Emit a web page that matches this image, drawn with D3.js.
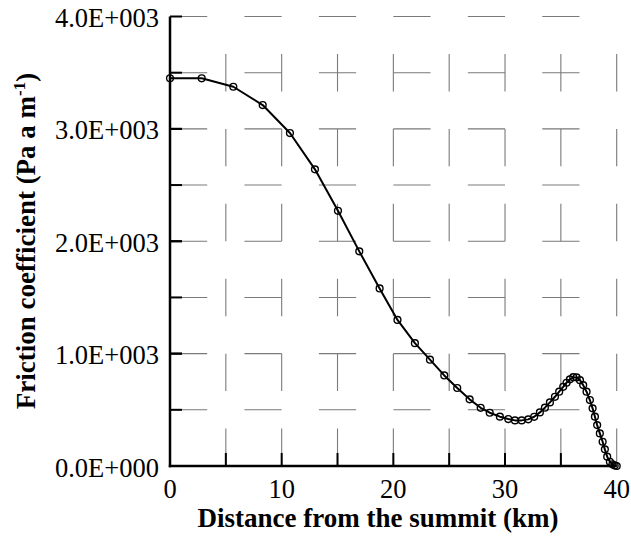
<!DOCTYPE html>
<html>
<head>
<meta charset="utf-8">
<script src="https://cdn.jsdelivr.net/npm/d3@7"></script>
<style>
  html, body { margin: 0; padding: 0; background: #fff; }
  svg { display: block; }
  text { font-family: "Liberation Serif", "Times New Roman", serif; fill: #000; }
</style>
</head>
<body>
<svg id="chart" width="631" height="538"></svg>
<script>
// Distance along the flowline (km) and basal friction coefficient (Pa a m^-1)
const distanceKm = [
  0, 2.84, 5.67, 8.30, 10.74, 12.98, 15.04, 16.95, 18.77, 20.37,
  21.93, 23.28, 24.56, 25.72, 26.83, 27.82, 28.63, 29.54, 30.29, 30.89,
  31.49, 32.08, 32.61, 33.12, 33.57, 34.02, 34.47, 34.85, 35.21, 35.51,
  35.81, 36.11, 36.41, 36.71, 37.00, 37.30, 37.60, 37.84, 38.05, 38.25,
  38.49, 38.74, 38.94, 39.15, 39.39, 39.62, 39.82, 40.0
];
const friction = [
  3450, 3450, 3375, 3212, 2963, 2640, 2271, 1910, 1580, 1300,
  1093, 946, 806, 694, 593, 518, 474, 439, 418, 406,
  406, 415, 438, 477, 519, 566, 616, 661, 705, 741,
  771, 790, 788, 764, 720, 661, 587, 513, 439, 364,
  290, 216, 148, 83, 38, 15, 5, 0
];
const xTicks = [0, 10, 20, 30, 40];
const xGrid = [5, 10, 15, 20, 25, 30, 35, 40];
const xMinorTicks = [5, 10, 15, 20, 25, 30, 35];
const yTicks = [0, 1000, 2000, 3000, 4000];
const yGrid = [500, 1000, 1500, 2000, 2500, 3000, 3500, 4000];
const yMinorTicks = [500, 1000, 1500, 2000, 2500, 3000, 3500];

const xTitle = "Distance from the summit (km)";

const svg = d3.select("#chart");
const plotL = 170, plotR = 616.7, plotT = 16.5, plotB = 466;

const x = d3.scaleLinear().domain([0, 40]).range([plotL, plotR]);
const y = d3.scaleLinear().domain([0, 4000]).range([plotB, plotT]);

const W = plotR - plotL, H = plotB - plotT;

// Dashed grid: horizontal lines dash from the left axis, vertical lines from the bottom axis
const grid = svg.append("g").attr("stroke", "#7a7a7a").attr("stroke-width", 1.1).attr("fill", "none");
grid.selectAll("line.h").data(yGrid).join("line")
  .attr("class", "h")
  .attr("x1", plotL).attr("x2", plotR)
  .attr("y1", d => y(d)).attr("y2", d => y(d))
  .attr("stroke-dasharray", `${W / 12} ${W / 12}`);
grid.selectAll("line.v").data(xGrid).join("line")
  .attr("class", "v")
  .attr("x1", d => x(d)).attr("x2", d => x(d))
  .attr("y1", plotB).attr("y2", plotT)
  .attr("stroke-dasharray", `${H / 12} ${H / 12}`);

// Inward tick marks
const ticks = svg.append("g").attr("stroke", "#000").attr("stroke-width", 2);
ticks.selectAll("line.yt").data(yTicks.concat(yMinorTicks)).join("line")
  .attr("class", "yt")
  .attr("x1", plotL).attr("x2", plotL + 12)
  .attr("y1", d => y(d)).attr("y2", d => y(d));
ticks.selectAll("line.xt").data(xMinorTicks).join("line")
  .attr("class", "xt")
  .attr("x1", d => x(d)).attr("x2", d => x(d))
  .attr("y1", plotB).attr("y2", plotB - 13);

// Axis lines (left and bottom only)
svg.append("line").attr("x1", plotL).attr("x2", plotL).attr("y1", plotT).attr("y2", plotB + 1.2)
  .attr("stroke", "#000").attr("stroke-width", 2.5);
svg.append("line").attr("x1", plotL - 1.2).attr("x2", plotR).attr("y1", plotB).attr("y2", plotB)
  .attr("stroke", "#000").attr("stroke-width", 2.5);

// Tick labels
const fmt = v => {
  if (v === 0) return "0.0E+000";
  const e = Math.floor(Math.log10(v));
  const m = v / Math.pow(10, e);
  return m.toFixed(1) + "E+" + String(e).padStart(3, "0");
};
svg.append("g").selectAll("text").data(yTicks).join("text")
  .attr("x", 159).attr("y", d => y(d) + 10.5)
  .attr("text-anchor", "end").attr("font-size", 26.5)
  .text(fmt);
svg.append("g").selectAll("text").data(xTicks).join("text")
  .attr("x", d => x(d)).attr("y", plotB + 32)
  .attr("text-anchor", "middle").attr("font-size", 26.5)
  .text(d => d);

// Axis titles
svg.append("text")
  .attr("x", 378).attr("y", 527)
  .attr("text-anchor", "middle").attr("font-size", 27).attr("font-weight", "bold")
  .text(xTitle);

const yt = svg.append("text")
  .attr("transform", "translate(35,241) rotate(-90)")
  .attr("text-anchor", "middle").attr("font-size", 27).attr("font-weight", "bold");
yt.append("tspan").text("Friction coefficient (Pa a m");
yt.append("tspan").attr("font-size", 17).attr("dy", -10).text("-1");
yt.append("tspan").attr("dy", 10).text(")");

// Series line and open circle markers
const line = d3.line().x(d => x(d[0])).y(d => y(d[1]));
const pts = distanceKm.map((d, i) => [d, friction[i]]);
svg.append("path").datum(pts)
  .attr("d", line).attr("fill", "none")
  .attr("stroke", "#000").attr("stroke-width", 2).attr("stroke-linejoin", "round");
svg.append("g").selectAll("circle").data(pts).join("circle")
  .attr("cx", d => x(d[0])).attr("cy", d => y(d[1])).attr("r", 3.4)
  .attr("fill", "none").attr("stroke", "#000").attr("stroke-width", 1.4);
</script>
</body>
</html>
